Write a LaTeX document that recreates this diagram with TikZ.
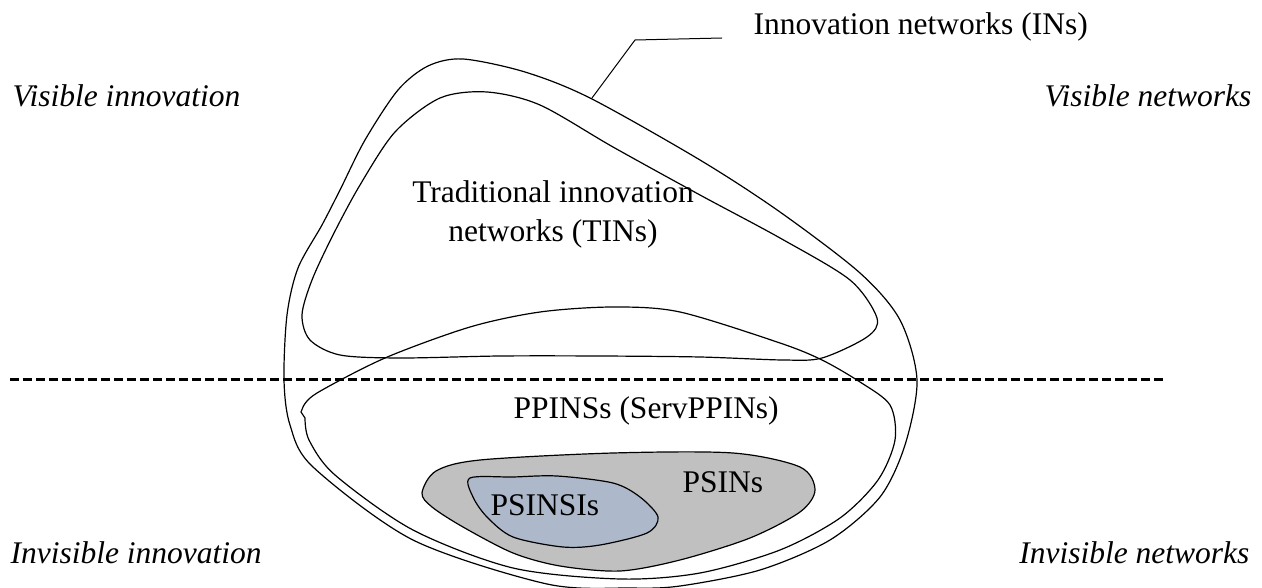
\documentclass[tikz,border=0pt]{standalone}
\usepackage{fontspec}
\setmainfont{Liberation Serif}
\usepackage{tikz}
\usetikzlibrary{positioning}
\definecolor{PsinGray}{RGB}{192,192,192}
\definecolor{PsinBlue}{RGB}{173,185,202}

\begin{document}
\begin{tikzpicture}[x=1pt, y=-1pt, line width=1.2pt,
		lab/.style={font=\fontsize{31.5}{39}\selectfont, inner sep=0pt},
		side/.style={font=\fontsize{31.5}{39}\selectfont\itshape, inner sep=0pt}]
			\useasboundingbox (0,0) rectangle (1262,588);
			% outer shape (INs)
			\draw plot[smooth cycle] coordinates {(463,59) (525,72) (590,98) (700,160) (780,212) (860,273) (900,320) (917,380) (905,445) (880,497) (830,540) (760,570) (680,586) (630,588) (547,584) (413,540) (313,467) (290,425) (284,380) (287,315) (298,268) (322,225) (340,190) (365,140) (398,90) (428,66)};
			% TINs
			\draw plot[smooth cycle] coordinates {(487,92) (540,105) (613,147) (700,195) (780,238) (850,280) (877,318) (867,337) (822,358) (783,360) (700,357) (600,356) (500,356) (400,358) (340,355) (310,340) (302,315) (312,280) (333,235) (360,185) (395,132) (440,98)};
			% PPINSs
			\draw plot[smooth] coordinates {(305,418) (309,440) (335,475) (413,530) (513,568) (620,579) (700,573) (780,550) (840,518) (878,480) (895,440) (890,405) (860,382) (822,360) (780,343) (680,312) (613,307) (540,312) (470,327) (385,358) (317,393) (303,407)} -- (301,412) -- cycle;
			% PSINs and PSINSIs
			\draw[fill=PsinGray] plot[smooth cycle] coordinates {(422,493) (436,471) (480,460) (613,453) (733,453) (800,467) (815,490) (800,512) (750,538) (680,560) (620,571) (560,566) (513,553) (463,527) (432,507)};
			\draw[fill=PsinBlue] plot[smooth cycle] coordinates {(470,478) (513,477) (557,476) (613,483) (640,497) (658,517) (647,533) (600,545) (563,547) (513,537) (487,517) (473,497)};
			% dashed border line
			\coordinate (DashL) at (10,379);
			\coordinate (DashR) at (1163,379);
			\draw[line width=3pt, dash pattern=on 9pt off 4pt] (DashL) -- (DashR);
			% labels
			\node[lab, anchor=base west] (INs) at (753,35) {Innovation networks (INs)};
			\node[lab, align=center] (TINs) at (553,214) {Traditional innovation\\networks (TINs)};
			\node[lab, anchor=base west] (PPINSs) at (513,418) {PPINSs (ServPPINs)};
			\node[lab, anchor=base west] (PSINs) at (682,492) {PSINs};
			\node[lab, anchor=base west] (PSINSIs) at (490,515) {PSINSIs};
			\node[side, anchor=base west] (VisInn) at (12,107) {Visible innovation};
			\node[side, anchor=base east] (VisNet) at (1252,107) {Visible networks};
			\node[side, anchor=base west] (InvInn) at (10,563) {Invisible innovation};
			\node[side, anchor=base east] (InvNet) at (1250,563) {Invisible networks};
			% leader to the outer shape
			\coordinate (Touch) at (592,98);
			\coordinate (Knee) at (635,40);
			\coordinate (Lead) at (722,38);
			\draw[line width=1pt] (Touch) -- (Knee) -- (Lead);
		\end{tikzpicture}
\end{document}
